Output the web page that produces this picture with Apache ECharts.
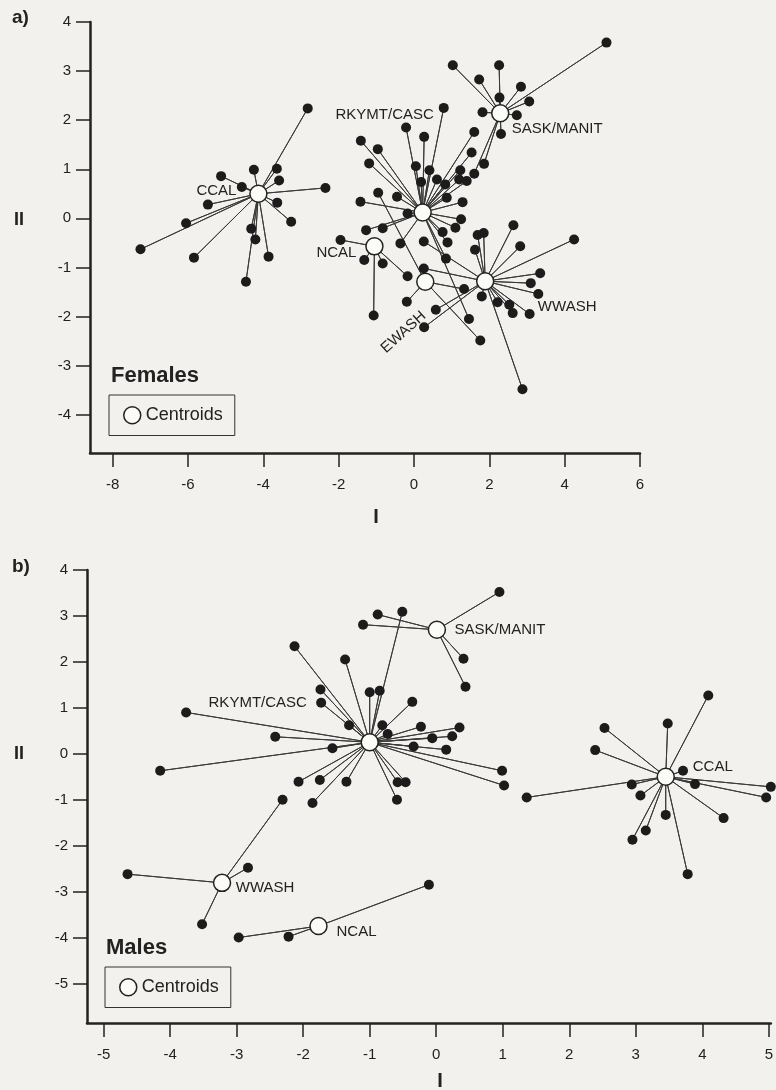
<!DOCTYPE html>
<html lang="en">
<head>
    <meta charset="UTF-8">
    <title>Centroid star plots</title>
    <script src="https://cdn.jsdelivr.net/npm/echarts@6/dist/echarts.min.js"></script>
    <style>
        html, body { margin: 0; padding: 0; background: #f2f1ed; }
        #main { width: 776px; height: 1090px; }
    </style>
</head>
<body>
    <div id="main"></div>

    <script type="text/javascript">
        // tick labels
        var xTicksA = [-8, -6, -4, -2, 0, 2, 4, 6];
        var yTicksA = [-4, -3, -2, -1, 0, 1, 2, 3, 4];
        var xTicksB = [-5, -4, -3, -2, -1, 0, 1, 2, 3, 4, 5];
        var yTicksB = [-5, -4, -3, -2, -1, 0, 1, 2, 3, 4];

        // a) females - centroids
        var femCentroids = [
            { name: 'CCAL', value: [-4.13, 0.50] },
            { name: 'NCAL', value: [-1.05, -0.57] },
            { name: 'RKYMT/CASC', value: [0.23, 0.12] },
            { name: 'SASK/MANIT', value: [2.29, 2.14] },
            { name: 'EWASH', value: [0.30, -1.29] },
            { name: 'WWASH', value: [1.89, -1.28] }
        ];
        // a) females - individuals per group
        var femCCAL = [[-2.82, 2.24], [-4.25, 0.99], [-3.64, 1.01], [-3.58, 0.77], [-5.12, 0.86], [-4.57, 0.64],
            [-2.35, 0.62], [-5.47, 0.28], [-3.63, 0.32], [-3.26, -0.07], [-6.05, -0.10], [-4.32, -0.21],
            [-4.21, -0.43], [-7.26, -0.63], [-5.84, -0.80], [-3.86, -0.78], [-4.46, -1.29]];
        var femNCAL = [[-1.95, -0.44], [-1.32, -0.85], [-0.83, -0.92], [-1.07, -1.98], [-0.17, -1.18]];
        var femRKYMT = [[0.79, 2.25], [-0.21, 1.85], [0.27, 1.66], [-1.41, 1.58], [-0.96, 1.41], [-1.19, 1.12],
            [0.05, 1.06], [0.41, 0.98], [0.19, 0.74], [0.61, 0.79], [0.83, 0.69], [1.60, 1.76], [1.53, 1.34],
            [1.23, 0.98], [1.20, 0.79], [1.40, 0.76], [0.87, 0.42], [1.29, 0.33], [-0.45, 0.44], [-1.42, 0.34],
            [-0.17, 0.10], [1.25, -0.02], [1.10, -0.19], [-1.27, -0.24], [-0.83, -0.20], [-0.36, -0.51],
            [0.76, -0.28], [0.89, -0.49], [0.85, -0.82], [1.46, -2.05]];
        var femSASK = [[1.03, 3.12], [2.26, 3.12], [1.73, 2.83], [2.84, 2.68], [2.27, 2.46], [3.06, 2.38],
            [5.11, 3.58], [1.82, 2.16], [2.73, 2.10], [2.31, 1.72], [1.86, 1.11], [1.60, 0.91]];
        var femEWASH = [[-0.95, 0.52], [-0.19, -1.70], [1.76, -2.49], [1.33, -1.44]];
        var femWWASH = [[0.26, -0.47], [1.69, -0.34], [1.85, -0.30], [2.64, -0.14], [2.82, -0.57], [4.25, -0.43],
            [1.62, -0.64], [3.35, -1.12], [3.10, -1.32], [3.30, -1.54], [3.07, -1.95], [2.62, -1.93],
            [2.53, -1.76], [2.22, -1.71], [1.80, -1.59], [2.88, -3.48], [0.58, -1.86], [0.27, -2.22], [0.26, -1.02]];

        // b) males - centroids
        var maleCentroids = [
            { name: 'RKYMT/CASC', value: [-1.00, 0.25] },
            { name: 'SASK/MANIT', value: [0.01, 2.70] },
            { name: 'CCAL', value: [3.45, -0.50] },
            { name: 'WWASH', value: [-3.22, -2.81] },
            { name: 'NCAL', value: [-1.77, -3.75] }
        ];
        // b) males - individuals per group
        var maleRKYMT = [[-2.13, 2.34], [-1.37, 2.05], [-0.51, 3.09], [-1.74, 1.40], [-1.73, 1.11], [-1.00, 1.34],
            [-0.85, 1.37], [-0.36, 1.13], [-3.76, 0.90], [-1.31, 0.62], [-0.81, 0.62], [-0.73, 0.43],
            [-0.23, 0.59], [0.35, 0.57], [-0.06, 0.34], [0.24, 0.38], [-0.34, 0.16], [0.15, 0.09],
            [-2.42, 0.37], [-1.56, 0.12], [-4.15, -0.37], [-2.07, -0.61], [-1.75, -0.57], [-1.35, -0.61],
            [-1.86, -1.07], [-0.58, -0.62], [-0.46, -0.62], [-0.59, -1.00], [0.99, -0.37], [1.02, -0.69]];
        var maleSASK = [[0.95, 3.52], [-0.88, 3.03], [-1.10, 2.81], [0.41, 2.07], [0.44, 1.46]];
        var maleCCAL = [[4.09, 1.27], [3.48, 0.66], [2.53, 0.56], [2.39, 0.08], [3.71, -0.37], [3.89, -0.66],
            [2.94, -0.67], [3.07, -0.91], [1.36, -0.95], [5.03, -0.72], [4.96, -0.95], [4.32, -1.40],
            [3.45, -1.33], [3.15, -1.67], [2.95, -1.87], [3.78, -2.62]];
        var maleWWASH = [[-2.31, -1.00], [-2.83, -2.48], [-4.64, -2.62], [-3.52, -3.71]];
        var maleNCAL = [[-0.11, -2.85], [-2.97, -4.00], [-2.22, -3.98]];

        var femGroups = [femCCAL, femNCAL, femRKYMT, femSASK, femEWASH, femWWASH];
        var maleGroups = [maleRKYMT, maleSASK, maleCCAL, maleWWASH, maleNCAL];

        // label placement of the centroid names (pixel offsets from the circle)
        var femLabelPos = {
            'CCAL': { offset: [-42, -3] },
            'NCAL': { offset: [-38, 7] },
            'RKYMT/CASC': { offset: [-38, -98] },
            'SASK/MANIT': { offset: [57, 16] },
            'EWASH': { offset: [-50, 23], rotate: 42 },
            'WWASH': { offset: [82, 26] }
        };
        var maleLabelPos = {
            'RKYMT/CASC': { offset: [-112, -39] },
            'SASK/MANIT': { offset: [63, 0] },
            'CCAL': { offset: [47, -10] },
            'WWASH': { offset: [43, 5] },
            'NCAL': { offset: [38, 6] }
        };

        var FONT = 'Liberation Sans, Arial, Helvetica, sans-serif';
        var INK = '#222';

        // star: centroid -> point -> centroid -> point ...
        function spokes(c, pts) {
            var d = [c];
            pts.forEach(function (p) { d.push(p); d.push(c); });
            return d;
        }

        function panelSeries(idx, centroids, groups, labelPos) {
            var out = [];
            centroids.forEach(function (c, i) {
                out.push({
                    type: 'line',
                    xAxisIndex: idx, yAxisIndex: idx,
                    data: spokes(c.value, groups[i]),
                    showSymbol: false,
                    silent: true,
                    z: 1,
                    lineStyle: { color: '#3a3a3a', width: 1 }
                });
            });
            var pts = [];
            groups.forEach(function (g) { pts = pts.concat(g); });
            out.push({
                type: 'scatter',
                xAxisIndex: idx, yAxisIndex: idx,
                data: pts,
                symbolSize: 10,
                z: 2,
                itemStyle: { color: '#1c1c1c', opacity: 1 }
            });
            out.push({
                name: 'Centroids',
                type: 'scatter',
                xAxisIndex: idx, yAxisIndex: idx,
                z: 3,
                symbolSize: 17,
                itemStyle: { color: '#fbfbf8', borderColor: INK, borderWidth: 1.5, opacity: 1 },
                data: centroids.map(function (c) {
                    var lp = labelPos[c.name];
                    return {
                        name: c.name,
                        value: c.value,
                        label: {
                            show: true,
                            position: 'inside',
                            formatter: '{b}',
                            offset: lp.offset,
                            rotate: lp.rotate || 0,
                            color: INK,
                            fontSize: 15,
                            fontFamily: FONT
                        }
                    };
                })
            });
            return out;
        }

        function valueAxis(idx, min, max, ticks, isX) {
            return {
                type: 'value',
                gridIndex: idx,
                min: min,
                max: max,
                splitLine: { show: false },
                axisLine: { onZero: false, lineStyle: { color: INK, width: 2.5 } },
                axisTick: { show: true, length: 14, lineStyle: { color: INK, width: 1.5 }, customValues: ticks },
                axisLabel: {
                    color: INK, fontSize: 15, fontFamily: FONT,
                    margin: isX ? 24 : 19,
                    customValues: ticks,
                    showMinLabel: true, showMaxLabel: true
                }
            };
        }

        var myChart = echarts.init(document.getElementById('main'));

        var option = {
            backgroundColor: '#f2f1ed',
            animation: false,
            grid: [
                { left: 90, top: 22, width: 550, height: 431 },
                { left: 87, top: 570, width: 689, height: 453 }
            ],
            xAxis: [
                valueAxis(0, -8.6, 6, xTicksA, true),
                valueAxis(1, -5.25, 5.03, xTicksB, true)
            ],
            yAxis: [
                valueAxis(0, -4.78, 4, yTicksA, false),
                valueAxis(1, -5.86, 4, yTicksB, false)
            ],
            legend: [
                {
                    data: ['Centroids'], left: 109, top: 395,
                    padding: [11, 12, 11, 14], borderColor: '#333', borderWidth: 1,
                    itemWidth: 17, itemHeight: 17, icon: 'circle', selectedMode: false,
                    itemStyle: { color: '#fbfbf8', borderColor: INK, borderWidth: 1.5 },
                    textStyle: { color: INK, fontSize: 18, fontFamily: FONT }
                },
                {
                    data: ['Centroids'], left: 105, top: 967,
                    padding: [11, 12, 11, 14], borderColor: '#333', borderWidth: 1,
                    itemWidth: 17, itemHeight: 17, icon: 'circle', selectedMode: false,
                    itemStyle: { color: '#fbfbf8', borderColor: INK, borderWidth: 1.5 },
                    textStyle: { color: INK, fontSize: 18, fontFamily: FONT }
                }
            ],
            graphic: [
                { type: 'text', style: { text: 'a)', x: 12, y: 18, font: 'bold 19px ' + FONT, fill: INK, textVerticalAlign: 'middle' } },
                { type: 'text', style: { text: 'b)', x: 12, y: 567, font: 'bold 19px ' + FONT, fill: INK, textVerticalAlign: 'middle' } },
                { type: 'text', style: { text: 'II', x: 14, y: 220, font: 'bold 18px ' + FONT, fill: INK, textVerticalAlign: 'middle' } },
                { type: 'text', style: { text: 'II', x: 14, y: 754, font: 'bold 18px ' + FONT, fill: INK, textVerticalAlign: 'middle' } },
                { type: 'text', style: { text: 'I', x: 376, y: 517, font: 'bold 20px ' + FONT, fill: INK, textAlign: 'center', textVerticalAlign: 'middle' } },
                { type: 'text', style: { text: 'I', x: 440, y: 1081, font: 'bold 20px ' + FONT, fill: INK, textAlign: 'center', textVerticalAlign: 'middle' } },
                { type: 'text', style: { text: 'Females', x: 111, y: 376, font: 'bold 22px ' + FONT, fill: INK, textVerticalAlign: 'middle' } },
                { type: 'text', style: { text: 'Males', x: 106, y: 948, font: 'bold 22px ' + FONT, fill: INK, textVerticalAlign: 'middle' } }
            ],
            series: panelSeries(0, femCentroids, femGroups, femLabelPos)
                .concat(panelSeries(1, maleCentroids, maleGroups, maleLabelPos))
        };

        myChart.setOption(option);
    </script>
</body>
</html>
